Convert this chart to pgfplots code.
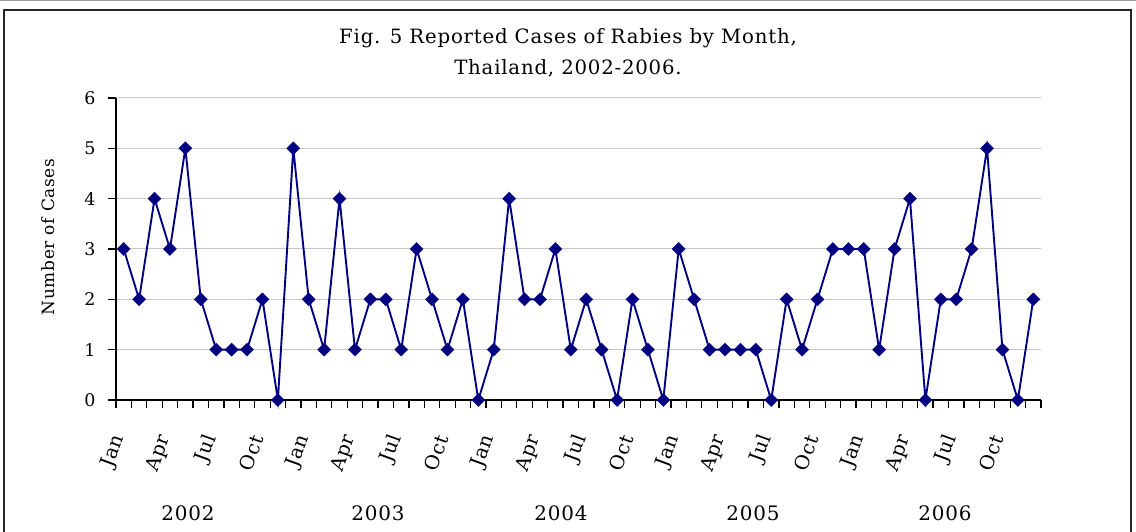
\documentclass[border=0pt]{standalone}
\usepackage{fontspec}
\setmainfont{DejaVu Serif}[LetterSpace=4]
\usepackage{pgfplots}
\pgfplotsset{compat=1.18}
\definecolor{navyc}{HTML}{000080}
\newcommand{\fsz}[1]{\fontsize{#1}{#1}\selectfont}
\begin{document}
\begin{tikzpicture}[x=1bp,y=1bp,
  mlbl/.style={font=\fsz{19.5}, inner sep=0pt, xshift=-4.7bp, yshift=-35.6bp, rotate=70, anchor=east}]
\useasboundingbox (0,0) rectangle (1136,532);
\draw[black!40, line width=1bp] (0,531.5) -- (1136,531.5);
\draw[black!85, line width=2.2bp] (4,-20) -- (4,522) -- (1131,522) -- (1131,-20);
\begin{axis}[
  at={(116bp,132bp)}, anchor=south west,
  scale only axis, width=925bp, height=302bp,
  xmin=-0.5, xmax=59.5, ymin=0, ymax=6,
  axis x line=bottom, axis y line=left, axis line style={-, black, line width=1.5bp},
  ytick={0,...,6},
  ymajorgrids, major grid style={color=black!22, line width=1bp},
  xtick={-0.5,0.5,...,59.5}, xticklabel=\empty,
  tick style={black, line width=1.2bp}, tick align=outside, major tick length=8bp,
  yticklabel style={font=\fsz{17.5}, xshift=-9bp, /pgf/number format/assume math mode=true},
  clip=false,
]
\addplot[navyc, line width=1.9bp, mark=square*, mark size=4.6bp,
  mark options={rotate=45, fill=navyc, draw=navyc, line width=0.4bp}] coordinates {
(0,3)(1,2)(2,4)(3,3)(4,5)(5,2)(6,1)(7,1)(8,1)(9,2)(10,0)(11,5)
(12,2)(13,1)(14,4)(15,1)(16,2)(17,2)(18,1)(19,3)(20,2)(21,1)(22,2)(23,0)
(24,1)(25,4)(26,2)(27,2)(28,3)(29,1)(30,2)(31,1)(32,0)(33,2)(34,1)(35,0)
(36,3)(37,2)(38,1)(39,1)(40,1)(41,1)(42,0)(43,2)(44,1)(45,2)(46,3)(47,3)
(48,3)(49,1)(50,3)(51,4)(52,0)(53,2)(54,2)(55,3)(56,5)(57,1)(58,0)(59,2)
};
\node[mlbl] at (axis cs:0,0) {Jan};
\node[mlbl] at (axis cs:3,0) {Apr};
\node[mlbl] at (axis cs:6,0) {Jul};
\node[mlbl] at (axis cs:9,0) {Oct};
\node[mlbl] at (axis cs:12,0) {Jan};
\node[mlbl] at (axis cs:15,0) {Apr};
\node[mlbl] at (axis cs:18,0) {Jul};
\node[mlbl] at (axis cs:21,0) {Oct};
\node[mlbl] at (axis cs:24,0) {Jan};
\node[mlbl] at (axis cs:27,0) {Apr};
\node[mlbl] at (axis cs:30,0) {Jul};
\node[mlbl] at (axis cs:33,0) {Oct};
\node[mlbl] at (axis cs:36,0) {Jan};
\node[mlbl] at (axis cs:39,0) {Apr};
\node[mlbl] at (axis cs:42,0) {Jul};
\node[mlbl] at (axis cs:45,0) {Oct};
\node[mlbl] at (axis cs:48,0) {Jan};
\node[mlbl] at (axis cs:51,0) {Apr};
\node[mlbl] at (axis cs:54,0) {Jul};
\node[mlbl] at (axis cs:57,0) {Oct};
\end{axis}
\node[font=\fsz{17}, rotate=90] at (48,295) {Number of Cases};
\node[font=\fsz{19.8}] at (568,494) {Fig. 5 Reported Cases of Rabies by Month,};
\node[font=\fsz{19.8}] at (568,464) {Thailand, 2002-2006.};
\node[font=\fsz{20}] at (188,19) {2002};
\node[font=\fsz{20}] at (378,19) {2003};
\node[font=\fsz{20}] at (561,19) {2004};
\node[font=\fsz{20}] at (753,19) {2005};
\node[font=\fsz{20}] at (945,19) {2006};
\end{tikzpicture}
\end{document}
